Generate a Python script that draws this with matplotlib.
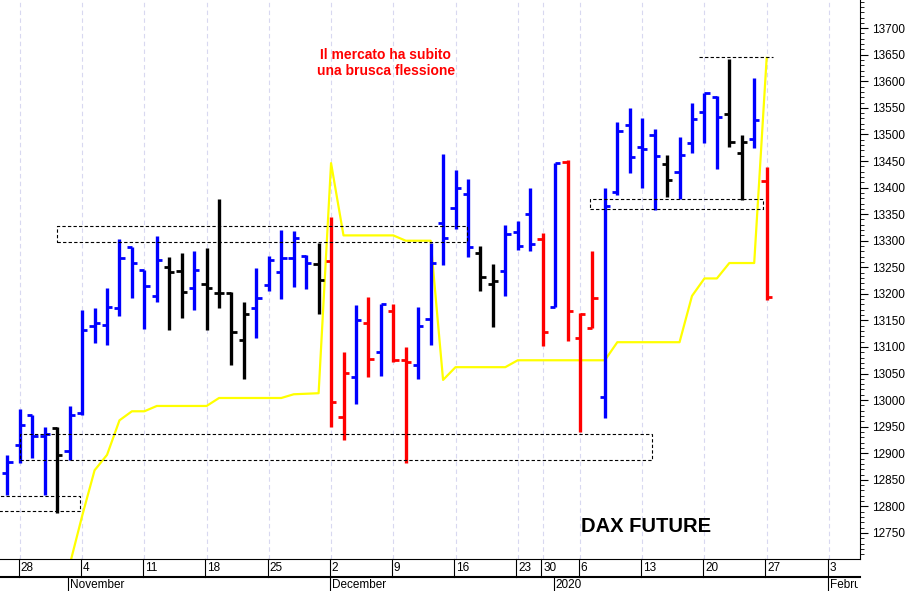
import matplotlib
matplotlib.use("Agg")
import matplotlib.pyplot as plt
import matplotlib.transforms as mtransforms
from matplotlib.patches import Rectangle

plt.rcParams['font.family'] = ['Liberation Sans', 'DejaVu Sans']

# trading-day index: Oct 28 2019 = 0
idx = list(range(-1, 61))
opens = [12863,12915,12972,12933,12947,12904,12976,13140,13142,13173,13288,13245,13196,13250,13243,13211,13219,13201,
         13201,13113,13173,13216,13241,13267,13271,13256,13262,12968,13044,13146,13090,13168,13075,13066,13152,13333,
         13361,13388,13277,13218,13243,13316,13350,13303,13176,13449,13117,13136,13005,13392,13517,13476,13498,13444,
         13429,13484,13542,13570,13538,13465,13491,13412]
highs = [12897,12983,12972,12949,12949,12989,13170,13173,13211,13303,13288,13245,13309,13269,13277,13280,13286,13378,
         13203,13185,13248,13271,13320,13318,13273,13296,13344,13090,13179,13194,13181,13181,13100,13176,13296,13463,
         13434,13416,13290,13256,13329,13338,13400,13314,13446,13451,13164,13280,13400,13523,13549,13531,13511,13461,
         13495,13559,13578,13572,13642,13499,13606,13439]
lows = [12821,12881,12891,12821,12787,12887,12972,13108,13104,13159,13192,13134,13185,13132,13155,13170,13132,13173,
        13066,13040,13117,13205,13190,13213,13209,13162,12949,12925,12993,13044,13046,13072,12881,13040,13104,13254,
        13322,13269,13205,13137,13196,13282,13280,13102,13176,13111,12940,13136,12966,13386,13428,13399,13358,13382,
        13378,13466,13484,13435,13476,13376,13474,13188]
closes = [12884,12953,12933,12936,12897,12972,13132,13145,13176,13267,13258,13215,13264,13241,13203,13245,13211,13201,
          13128,13162,13192,13264,13267,13305,13258,13226,12996,13051,13151,13078,13180,13075,13071,13139,13258,13305,
          13400,13288,13232,13224,13312,13290,13293,13128,13446,13168,13162,13192,13366,13506,13457,13473,13460,13414,
          13461,13529,13578,13533,13486,13486,13527,13194]
colors = ['b','b','b','b','k','b','b','b','b','b','b','b','b','k','k','b','k','k',
          'k','k','b','b','b','b','b','k','r','r','b','r','b','r','r','b','b','b',
          'b','b','k','k','b','b','b','r','b','r','r','r','b','b','b','b','b','k',
          'b','b','b','b','k','k','b','r']
cmap = {'b': '#0000ff', 'k': '#000000', 'r': '#ff0000'}

line_idx = list(range(4, 61))
line_vals = [12690, 12782, 12868, 12897, 12962, 12979, 12979,            # 4-10
             12989, 12989, 12989, 12989, 12989,                          # 11-15
             13004, 13004, 13004, 13004, 13004, 13004,                   # 16-21
             13011, 13012, 13013,                                        # 22-24
             13446,                                                      # 25
             13310, 13310, 13310, 13310, 13310,                          # 26-30
             13300, 13300, 13300,                                        # 31-33
             13038,                                                      # 34
             13062, 13062, 13062, 13062, 13062,                          # 35-39
             13075, 13075, 13075, 13075, 13075, 13075, 13075, 13075,     # 40-47
             13109, 13109, 13109, 13109, 13109, 13109,                   # 48-53
             13196, 13229, 13229,                                        # 54-56
             13258, 13258, 13258,                                        # 57-59
             13644]                                                      # 60

# dashed zones: (x0, x1, low, high)
zones = [(3.0, 35.9, 13297, 13327), (-1.7, 4.8, 12792, 12820), (0.0, 50.8, 12887, 12936),
         (45.8, 59.7, 13359, 13378), (54.6, 60.5, 13646, 13646)]

week_idx = [0, 5, 10, 15, 20, 25, 30, 35, 40, 42, 45, 50, 55, 60, 65]
week_labels = ['28', '4', '11', '18', '25', '2', '9', '16', '23', '30', '6', '13', '20', '27', '3']
month_idx = [4, 25, 43, 65]
month_labels = ['November', 'December', '2020', 'February']

fig = plt.figure(figsize=(9.06, 5.91), dpi=100)
ax = fig.add_axes([0, 32/591, 860/906, 559/591])
ax.set_xlim(-1.6, 67.5)
ax.set_ylim(12701, 13753)

for x in week_idx:
    ax.axvline(x, color='#d8d8f0', lw=0.8, ls=(0, (4, 3)), zorder=0)

w = 0.42
for i, o, h, l, c, col in zip(idx, opens, highs, lows, closes, colors):
    cc = cmap[col]
    ax.vlines(i, l, h, color=cc, lw=2.4, zorder=3)
    ax.hlines(o, i - w, i, color=cc, lw=2.0, zorder=3)
    ax.hlines(c, i, i + w, color=cc, lw=2.0, zorder=3)

ax.plot(line_idx, line_vals, color='#ffff00', lw=1.6, zorder=2)

for x0, x1, lo, hi in zones:
    if hi == lo:
        ax.hlines(lo, x0, x1, color='black', lw=0.8, ls=(0, (3, 2)), zorder=4)
    else:
        ax.add_patch(Rectangle((x0, lo), x1 - x0, hi - lo, fill=False, ec='black', lw=0.8,
                               ls=(0, (3, 2)), zorder=4))

ax.text(29.4, 13634, "Il mercato ha subito\nuna brusca flessione", color='#ff0000', fontsize=10,
        fontweight='bold', ha='center', va='center', linespacing=1.15)
ax.text(50.3, 12762, "DAX FUTURE", color='black', fontsize=14.5, fontweight='bold', ha='center', va='center')

ax.yaxis.tick_right()
ax.set_yticks(list(range(12750, 13701, 50)))
ax.set_yticks(list(range(12710, 13751, 10)), minor=True)
ax.tick_params(axis='y', which='major', length=6, labelsize=8.5, pad=3)
ax.tick_params(axis='y', which='minor', length=3)
ax.set_xticks([])
for s in ['top', 'left']:
    ax.spines[s].set_visible(False)

# bottom date rows
clip = mtransforms.Bbox.from_extents(0, 0, 858, 591)
tr = mtransforms.blended_transform_factory(ax.transData, ax.transAxes)
row = 18 / 559
ax.plot([-1.6, 67.5], [-row, -row], transform=tr, color='black', lw=1.5, clip_on=False)
for x, lab in zip(week_idx, week_labels):
    xx = x - 0.1
    ax.plot([xx, xx], [0, -row], transform=tr, color='black', lw=0.8, clip_on=False)
    ax.text(xx + 0.15, -row / 2, lab, transform=tr, fontsize=8.5, ha='left', va='center', clip_on=False)
for x, lab in zip(month_idx, month_labels):
    xx = x - 0.1
    ax.plot([xx, xx], [-row, -row - 16 / 559], transform=tr, color='black', lw=0.8, clip_on=False)
    t = ax.text(xx + 0.15, -row - 8 / 559, lab, transform=tr, fontsize=8.5, ha='left', va='center')
    t.set_clip_box(clip)
    t.set_clip_on(True)

fig.savefig("out.png", dpi=100)
